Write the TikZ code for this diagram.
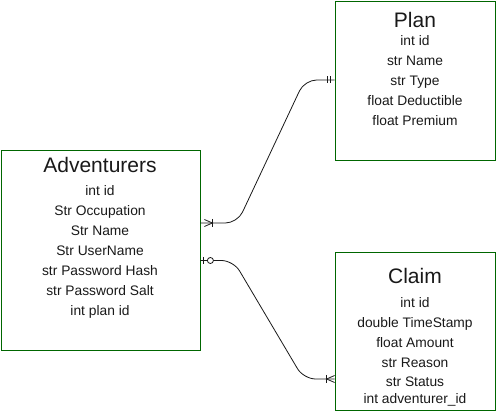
\documentclass[tikz,border=0pt]{standalone}
\usepackage{fontspec}
\setmainfont{Liberation Sans}
\usepackage{xcolor}
\usepackage{tikz}
\usetikzlibrary{calc}

\begin{document}
\begin{tikzpicture}[x=1pt,y=-1pt,
  entity/.style={draw=green!40!black, line width=0.8pt, inner sep=0pt},
  etitle/.style={font=\fontsize{21}{25}\selectfont, anchor=base, text=black!90},
  efield/.style={font=\fontsize{13.8}{16}\selectfont, anchor=base, text=black!90},
  rel/.style={draw=black!90, line width=0.8pt}]
  \useasboundingbox (0,0) rectangle (504,411);
  % entities
  \node[entity, minimum width=160pt, minimum height=159pt] (plan) at (415,80.5) {};
  \node[entity, minimum width=199pt, minimum height=200pt] (adv) at (100.5,250) {};
  \node[entity, minimum width=160pt, minimum height=158pt] (claim) at (415,331) {};
  % Plan
  \node[etitle] (plan-t) at (415,28) {Plan};
  \foreach \f [count=\i] in {int id, str Name, str Type, float Deductible, float Premium}
    \node[efield] (plan-\i) at (415,26+20*\i) {\f};
  % Adventurers
  \node[etitle] (adv-t) at (100,173) {Adventurers};
  \foreach \f [count=\i] in {int id, Str Occupation, Str Name, Str UserName, str Password Hash, str Password Salt, int plan id}
    \node[efield] (adv-\i) at (100,176+20*\i) {\f};
  % Claim
  \node[etitle] (claim-t) at (415,284) {Claim};
  \foreach \f/\y [count=\i] in {int id/308, double TimeStamp/328, float Amount/348, str Reason/368, str Status/387, int adventurer\_id/404}
    \node[efield] (claim-\i) at (415,\y) {\f};
  % relations
  \coordinate (r1a) at ($(adv.east)+(0,-27)$);
  \coordinate (r1b) at ($(plan.west)+(0,-0.5)$);
  \coordinate (r2a) at ($(adv.east)+(0,10.5)$);
  \coordinate (r2b) at ($(claim.west)+(0,48)$);
  \draw[rel, rounded corners=12pt] (r1a) -- ($(r1a)+(37,0)$) -- ($(r1b)+(-30,0)$) -- (r1b);
  \draw[rel, rounded corners=12pt] (r2a) -- ($(r2a)+(33,0)$) -- ($(r2b)+(-31,0)$) -- (r2b);
  % one or many (Adventurers side)
  \draw[rel] ($(r1a)+(4,-3.5)$) -- ($(r1a)+(12,0)$) -- ($(r1a)+(4,3.5)$);
  \draw[rel] ($(r1a)+(12,-4)$) -- ($(r1a)+(12,4)$);
  % exactly one (Plan side)
  \draw[rel] ($(r1b)+(-7.5,-3.5)$) -- ($(r1b)+(-7.5,3.5)$);
  \draw[rel] ($(r1b)+(-4,-3.5)$) -- ($(r1b)+(-4,3.5)$);
  % zero or one (Adventurers side)
  \draw[rel] ($(r2a)+(2.5,-3.5)$) -- ($(r2a)+(2.5,3.5)$);
  \draw[rel, fill=white] ($(r2a)+(10,0)$) circle (3);
  % one or many (Claim side)
  \draw[rel] ($(r2b)+(0,-3.5)$) -- ($(r2b)+(-8,0)$) -- ($(r2b)+(0,3.5)$);
  \draw[rel] ($(r2b)+(-8,-4)$) -- ($(r2b)+(-8,4)$);
\end{tikzpicture}
\end{document}
